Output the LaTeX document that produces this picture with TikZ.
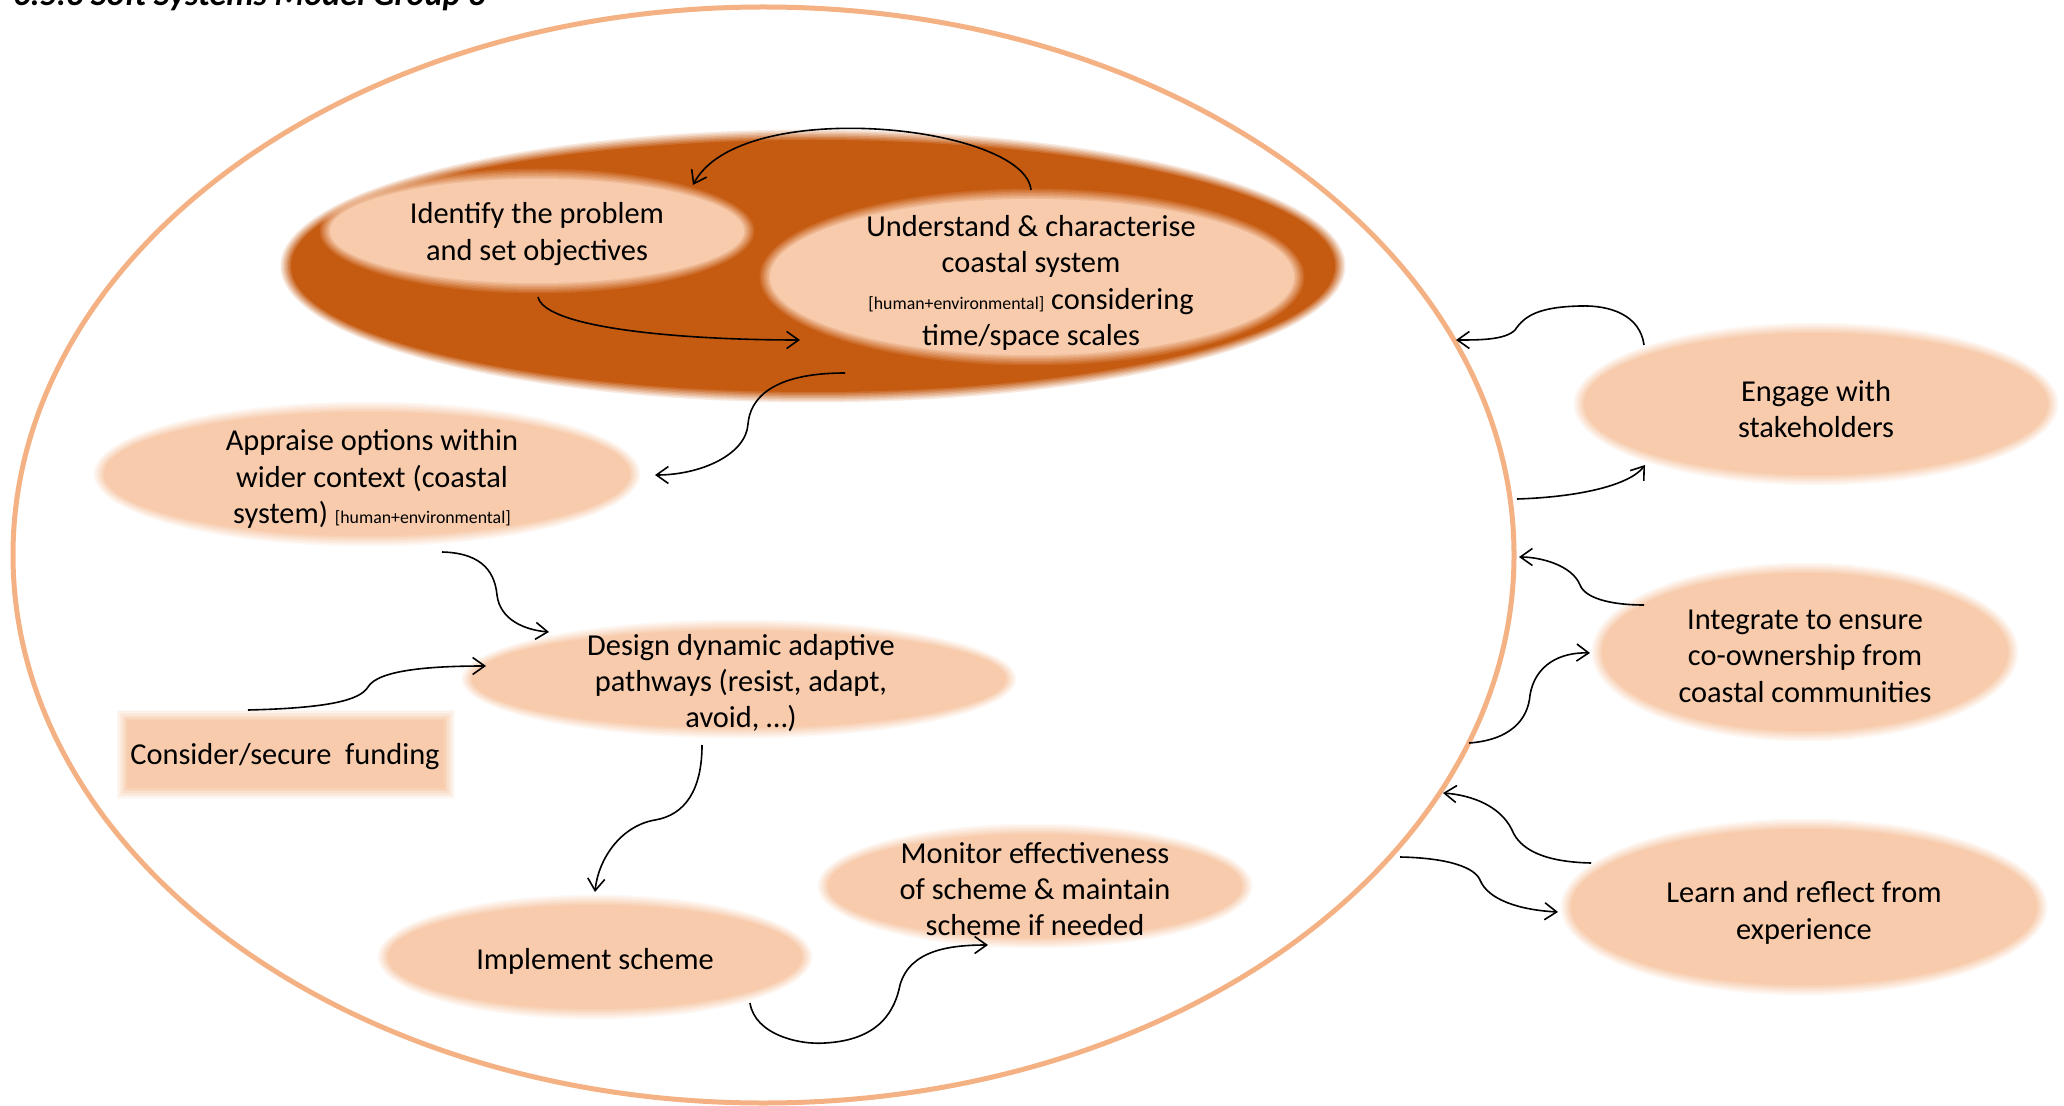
\documentclass[tikz,border=0pt]{standalone}
\usepackage{fontspec}
\setmainfont{Carlito}
\usetikzlibrary{arrows.meta}

\definecolor{rust}{HTML}{C55A11}
\definecolor{peach}{HTML}{F7CBAC}
\definecolor{rim}{HTML}{F4B183}

\newcommand\bodyfont{\fontsize{15.2}{18.2}\selectfont}
\newcommand\tagfont{\fontsize{8.9}{10}\selectfont}

% filled ellipse with a feathered edge: centre x, centre y, rx, ry, colour
% (stacked fills whose opacities add up to a linear ramp, the last one opaque)
\newcommand\softoval[5]{%
  \foreach \k [evaluate=\k as \op using {1/(8-\k)}] in {0,...,7}{%
    \fill[#5,opacity=\op] (#1,#2) ellipse ({#3+5.5-1.5*\k} and {#4+5.5-1.5*\k});}%
}
% filled rectangle with a feathered edge: x1, y1, x2, y2, colour
\newcommand\softrect[5]{%
  \foreach \k [evaluate=\k as \op using {1/(8-\k)}] in {0,...,7}{%
    \fill[#5,opacity=\op] ({#1-5.5+1.5*\k},{#2-5.5+1.5*\k}) rectangle ({#3+5.5-1.5*\k},{#4+5.5-1.5*\k});}%
}

\tikzset{
  txt/.style={align=center, font=\bodyfont, inner sep=0pt},
  flow/.style={line width=0.8pt, black,
    -{Straight Barb[length=6pt,width=8.5pt]}},
}

\begin{document}
\begin{tikzpicture}[x=0.5pt, y=-0.5pt]
\useasboundingbox (0,0) rectangle (2064,1106);

% heading (runs off the top edge)
\node[anchor=base west, inner sep=0pt,
      font=\fontsize{17}{20}\selectfont\bfseries\itshape] (title)
  at (13,6) {6.5.3 Soft Systems Model Group 3};

% outer system boundary
\draw[rim, line width=2.5pt] (763.5,555) ellipse (750.5 and 548);

% core problem-definition area
\softoval{813}{266}{527}{131}{rust}
\softoval{537}{231}{212}{57}{peach}
\softoval{1032}{277}{267}{83}{peach}

% inner stages
\softoval{367}{474}{268}{67}{peach}
\softoval{739}{679}{272}{54}{peach}
\softrect{122}{715}{449}{793}{peach}
\softoval{595}{957}{212}{57}{peach}
\softoval{1035}{886}{212}{57}{peach}

% outer activities
\softoval{1816}{404}{237}{76}{peach}
\softoval{1805}{652}{208}{84}{peach}
\softoval{1804}{907}{238}{83}{peach}

% labels
\node[txt] (idf) at (537,234) {Identify the problem\\and set objectives};
\node[txt] (und) at (1031,283) {Understand \& characterise\\coastal system\\{\tagfont[human+environmental]} considering\\time/space scales};
\node[txt] (app) at (372,479) {Appraise options within\\wider context (coastal\\system) {\tagfont[human+environmental]}};
\node[txt] (des) at (741,683) {Design dynamic adaptive\\pathways (resist, adapt,\\avoid, \dots)};
\node[txt] (fund) at (285,757) {Consider/secure\ \ funding};
\node[txt] (imp) at (595,961) {Implement scheme};
\node[txt] (mon) at (1035,889) {Monitor effectiveness\\of scheme \& maintain\\scheme if needed};
\node[txt] (eng) at (1816,409) {Engage with\\stakeholders};
\node[txt] (int) at (1805,656) {Integrate to ensure\\co-ownership from\\coastal communities};
\node[txt] (lrn) at (1804,913) {Learn and reflect from\\experience};

% connector end points
\coordinate (und-top) at (1031,190);
\coordinate (idf-in)  at (693,185);
\coordinate (idf-out) at (538,297);
\coordinate (und-in)  at (800,340);
\coordinate (und-out) at (845,373);
\coordinate (app-in)  at (655,475);
\coordinate (app-out) at (442,552);
\coordinate (des-in)  at (549,632);
\coordinate (fund-out) at (248,710);
\coordinate (des-in2) at (486,666);
\coordinate (des-out) at (702,745);
\coordinate (imp-in)  at (595,892);
\coordinate (imp-out) at (750,1003);
\coordinate (mon-in)  at (988,945);
\coordinate (eng-out) at (1644,345);
\coordinate (rim-a)   at (1456,340);
\coordinate (rim-b)   at (1517,499);
\coordinate (eng-in)  at (1645,465);
\coordinate (int-out) at (1644,605);
\coordinate (rim-c)   at (1519,557);
\coordinate (rim-d)   at (1469,743);
\coordinate (int-in)  at (1590,653);
\coordinate (lrn-out) at (1591,863);
\coordinate (rim-e)   at (1443,793);
\coordinate (rim-f)   at (1400,857);
\coordinate (lrn-in)  at (1558,912);

% process flow
\draw[flow] (und-top) .. controls (1025,125) and (740,95) .. (idf-in);
\draw[flow] (idf-out) .. controls (545,328) and (680,340) .. (und-in);
\draw[flow] (und-out) .. controls (770,373) and (750,400) .. (748,424)
                      .. controls (746,455) and (700,475) .. (app-in);
\draw[flow] (app-out) .. controls (485,553) and (495,575) .. (497,595)
                      .. controls (500,620) and (525,630) .. (des-in);
\draw[flow] (fund-out) .. controls (330,708) and (360,700) .. (368,687)
                       .. controls (378,670) and (430,666) .. (des-in2);
\draw[flow] (des-out) .. controls (702,790) and (685,815) .. (655,820)
                      .. controls (620,826) and (598,860) .. (imp-in);
\draw[flow] (imp-out) .. controls (755,1035) and (800,1045) .. (825,1043)
                      .. controls (880,1040) and (895,1010) .. (900,985)
                      .. controls (910,950) and (950,945) .. (mon-in);

% exchanges across the system boundary
\draw[flow] (eng-out) .. controls (1640,315) and (1610,305) .. (1580,306)
                      .. controls (1540,307) and (1525,315) .. (1515,330)
                      .. controls (1505,340) and (1480,340) .. (rim-a);
\draw[flow] (rim-b) .. controls (1580,497) and (1630,485) .. (eng-in);
\draw[flow] (int-out) .. controls (1610,605) and (1585,598) .. (1580,585)
                      .. controls (1572,565) and (1540,557) .. (rim-c);
\draw[flow] (rim-d) .. controls (1510,740) and (1528,720) .. (1530,695)
                    .. controls (1535,665) and (1560,652) .. (int-in);
\draw[flow] (lrn-out) .. controls (1545,862) and (1520,850) .. (1512,830)
                      .. controls (1500,805) and (1470,795) .. (rim-e);
\draw[flow] (rim-f) .. controls (1450,858) and (1475,868) .. (1480,880)
                    .. controls (1488,900) and (1520,910) .. (lrn-in);
\end{tikzpicture}
\end{document}
